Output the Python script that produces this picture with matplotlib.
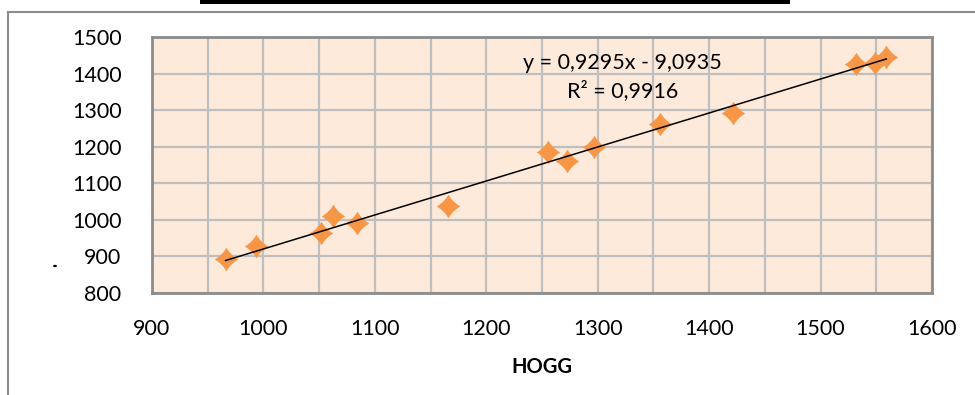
import matplotlib
matplotlib.use("Agg")
import matplotlib.pyplot as plt
import numpy as np
from matplotlib.path import Path
from matplotlib.lines import Line2D
from matplotlib.patches import Rectangle, Circle

# ---- data ----
hogg = [966, 993, 1052, 1062, 1084, 1166, 1255, 1272, 1297, 1356, 1421, 1532, 1549, 1559]
other = [893, 928, 964, 1011, 992, 1038, 1185, 1161, 1199, 1262, 1292, 1426, 1429, 1445]
slope = 0.9295
intercept = -9.0935
r2_text = "R² = 0,9916"
eq_text = "y = 0,9295x - 9,0935"
x_ticks = [900, 1000, 1100, 1200, 1300, 1400, 1500, 1600]
y_ticks = [800, 900, 1000, 1100, 1200, 1300, 1400, 1500]
x_label = "HOGG"

plt.rcParams['font.family'] = ['Lato', 'DejaVu Sans']

W, H = 975, 395
fig = plt.figure(figsize=(W / 100, H / 100), dpi=100)
fig.patch.set_facecolor('white')

left, right, top, bottom = 152, 932, 37, 293
ax = fig.add_axes([left / W, 1 - bottom / H, (right - left) / W, (bottom - top) / H])
ax.set_facecolor('#FDEADA')

# slightly concave diamond marker
k = 0.36
verts = [(0, 1), (k, k), (1, 0), (k, -k), (0, -1), (-k, -k), (-1, 0), (-k, k), (0, 1), (0, 1)]
codes = [Path.MOVETO, Path.CURVE3, Path.CURVE3, Path.CURVE3, Path.CURVE3,
         Path.CURVE3, Path.CURVE3, Path.CURVE3, Path.CURVE3, Path.CLOSEPOLY]
star = Path(verts, codes)

ax.plot(hogg, other, linestyle='none', marker=star, markersize=16,
        markerfacecolor='#F79646', markeredgecolor='#F79646', markeredgewidth=0.5, zorder=3)

xs = np.array([min(hogg), max(hogg)])
ax.plot(xs, slope * xs + intercept, color='black', linewidth=1.1, zorder=4)

ax.set_xlim(900, 1600)
ax.set_ylim(800, 1500)
ax.set_xticks(x_ticks)
ax.set_xticks(np.arange(950, 1600, 100), minor=True)
ax.set_yticks(y_ticks)
ax.grid(True, which='both', axis='x', color='#BFBFBF', linewidth=1.6, zorder=1)
ax.grid(True, which='major', axis='y', color='#BFBFBF', linewidth=1.6, zorder=1)
ax.set_axisbelow(True)
for s in ax.spines.values():
    s.set_color('#8C8C8C')
    s.set_linewidth(2)
ax.tick_params(axis='both', which='both', length=0, labelsize=15.5, colors='black')
ax.tick_params(axis='y', pad=22)
ax.tick_params(axis='x', pad=19)
ax.set_xlabel(x_label, fontsize=14.5, fontweight='bold', labelpad=13)

ax.text(1322, 1429, eq_text, ha='center', va='center', fontsize=15.5)
ax.text(1322, 1352, r2_text, ha='center', va='center', fontsize=15.5)

# outer chart border and title-box remnant
fig.add_artist(Line2D([8 / W, 8 / W], [0, 1 - 12 / H], color='#8C8C8C', linewidth=1.5))
fig.add_artist(Line2D([8 / W, 1], [1 - 12 / H, 1 - 12 / H], color='#8C8C8C', linewidth=1.5))
fig.add_artist(Rectangle((200 / W, 1 - 4 / H), 590 / W, 4 / H, color='black', linewidth=0))
fig.add_artist(Circle((55 / W, 1 - 266 / H), 1.2 / W, color='black'))

fig.savefig('out.png', dpi=100)
